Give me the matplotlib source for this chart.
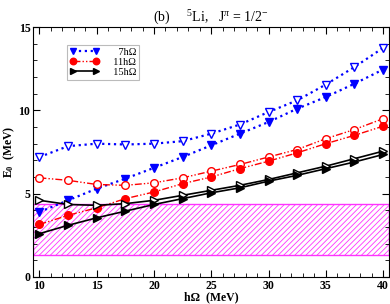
import numpy as np
import matplotlib
matplotlib.use("Agg")
import matplotlib.pyplot as plt
from matplotlib.ticker import MultipleLocator

plt.rcParams["font.family"] = "Liberation Serif"
plt.rcParams["mathtext.fontset"] = "custom"
plt.rcParams["mathtext.rm"] = "Liberation Serif"
plt.rcParams["mathtext.it"] = "Liberation Serif:italic"
plt.rcParams["mathtext.bf"] = "Liberation Serif:bold"
plt.rcParams["hatch.color"] = "#ff33ff"
plt.rcParams["hatch.linewidth"] = 0.6

hw = [10, 12.5, 15, 17.5, 20, 22.5, 25, 27.5, 30, 32.5, 35, 37.5, 40]

n7_open = [7.2, 7.85, 8.0, 7.95, 8.0, 8.15, 8.6, 9.15, 9.9, 10.6, 11.55, 12.6, 13.75]
n7_fill = [3.9, 4.6, 5.3, 5.9, 6.55, 7.2, 7.9, 8.6, 9.3, 10.1, 10.8, 11.6, 12.45]
n11_open = [5.95, 5.8, 5.55, 5.5, 5.65, 5.95, 6.35, 6.75, 7.2, 7.65, 8.3, 8.85, 9.5]
n11_fill = [3.15, 3.7, 4.15, 4.7, 5.1, 5.6, 6.0, 6.5, 6.95, 7.45, 8.0, 8.5, 9.05]
n15_open = [4.6, 4.35, 4.3, 4.4, 4.6, 4.9, 5.2, 5.5, 5.85, 6.25, 6.65, 7.1, 7.55]
n15_fill = [2.6, 3.1, 3.55, 3.95, 4.35, 4.7, 5.05, 5.35, 5.75, 6.1, 6.5, 6.9, 7.35]

band_low, band_high = 1.3, 4.4

fig = plt.figure(figsize=(3.9, 3.04), dpi=100)
ax = fig.add_axes([0.085, 0.089, 0.912, 0.822])

ax.axhspan(band_low, band_high, facecolor="none", edgecolor="#ff33ff",
           hatch="//////", linewidth=1.0, zorder=1)

ms = 5.5
dashdotdot = (0, (5, 1.5, 1, 1.5, 1, 1.5))

ax.plot(hw, n7_open, color="blue", ls=":", lw=1.6, marker="v", ms=ms,
        mfc="white", mec="blue", mew=1.0, zorder=3)
ax.plot(hw, n7_fill, color="blue", ls=":", lw=1.6, marker="v", ms=ms,
        mfc="blue", mec="blue", label="\u2007\u20077h\u03a9", zorder=3)
ax.plot(hw, n11_open, color="red", ls=dashdotdot, lw=1.0, marker="o", ms=ms,
        mfc="white", mec="red", mew=1.0, zorder=3)
ax.plot(hw, n11_fill, color="red", ls=dashdotdot, lw=1.0, marker="o", ms=ms,
        mfc="red", mec="red", label="\u200711h\u03a9", zorder=3)
ax.plot(hw, n15_open, color="black", ls="-", lw=1.2, marker=">", ms=ms,
        mfc="white", mec="black", mew=1.0, zorder=3)
ax.plot(hw, n15_fill, color="black", ls="-", lw=1.2, marker=">", ms=ms,
        mfc="black", mec="black", label="\u200715h\u03a9", zorder=3)

ax.set_xlim(9.45, 40.5)
ax.set_ylim(0, 15)
ax.xaxis.set_major_locator(MultipleLocator(5))
ax.xaxis.set_minor_locator(MultipleLocator(1))
ax.yaxis.set_major_locator(MultipleLocator(5))
ax.yaxis.set_minor_locator(MultipleLocator(1))
ax.tick_params(which="both", direction="in", top=True, right=True)
ax.tick_params(which="major", length=5, labelsize=8.5, pad=2)
ax.tick_params(which="minor", length=3)
for lab in ax.get_xticklabels() + ax.get_yticklabels():
    lab.set_fontweight("bold")

ax.set_xlabel("h\u03a9  (MeV)", fontsize=8.5, fontweight="bold", labelpad=0)
ax.set_ylabel("E$_\\mathbf{0}$  (MeV)", fontsize=8.5, fontweight="bold", labelpad=1)
ax.set_title("(b)     $^{5}$Li,   J$^{\\pi}$ = 1/2$^{-}$", fontsize=10, pad=4)

leg = ax.legend(loc="upper left", bbox_to_anchor=(0.095, 0.93), fontsize=7.5,
                numpoints=2, handlelength=2.8, borderpad=0.3, labelspacing=0.05,
                handletextpad=0.8, frameon=True, fancybox=False,
                edgecolor="#aaaaaa", markerscale=0.85, borderaxespad=0)
leg.get_frame().set_linewidth(0.8)

fig.savefig("out.png", dpi=100)
